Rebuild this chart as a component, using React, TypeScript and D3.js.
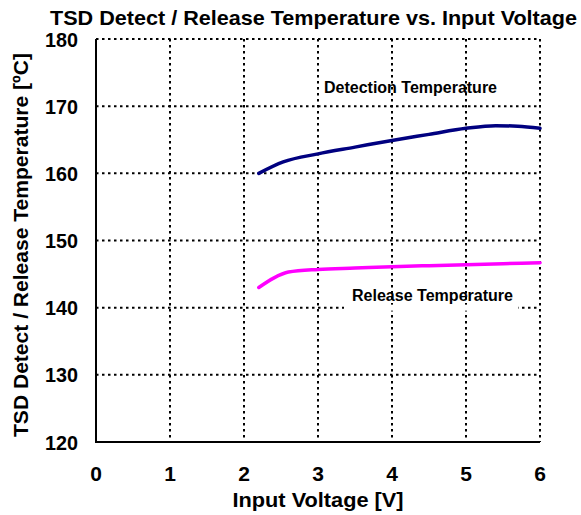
import React from "react";
import * as d3 from "d3";

const detectV = [2.2, 2.53, 3.0, 3.5, 4.0, 4.5, 5.0, 5.4, 5.7, 6.0];
const detectT = [160.0, 161.7, 162.9, 163.9, 164.9, 165.8, 166.7, 167.1, 167.0, 166.7];
const releaseV = [2.2, 2.4, 2.6, 3.0, 3.5, 4.0, 4.5, 5.0, 5.5, 6.0];
const releaseT = [143.0, 144.4, 145.3, 145.7, 145.9, 146.1, 146.25, 146.4, 146.55, 146.7];
const xTicks = [0, 1, 2, 3, 4, 5, 6];
const yTicks = [120, 130, 140, 150, 160, 170, 180];

const FONT = "'Liberation Sans', Arial, sans-serif";

export default function App() {
  const W = 581, H = 515;
  const left = 96, right = 540, top = 39, bottom = 442;
  const x = d3.scaleLinear().domain([0, 6]).range([left, right]);
  const y = d3.scaleLinear().domain([120, 180]).range([bottom, top]);
  const line = d3
    .line<[number, number]>()
    .x((d) => x(d[0]))
    .y((d) => y(d[1]))
    .curve(d3.curveMonotoneX);
  const det = line(detectV.map((v, i) => [v, detectT[i]]) as [number, number][]) || "";
  const rel = line(releaseV.map((v, i) => [v, releaseT[i]]) as [number, number][]) || "";
  const dash = "2.5,3.5";
  return (
    <svg width={W} height={H} style={{ position: "absolute", left: 0, top: 0, background: "#fff" }}>
      <rect x={0} y={0} width={W} height={H} fill="#fff" />
      {/* grid */}
      {xTicks.filter((t) => t > 0).map((t) => (
        <line key={"gx" + t} x1={x(t)} x2={x(t)} y1={top} y2={bottom} stroke="#000" strokeWidth={2} strokeDasharray={dash} />
      ))}
      {yTicks.filter((t) => t > 120).map((t) => (
        <line key={"gy" + t} x1={left} x2={right} y1={y(t)} y2={y(t)} stroke="#000" strokeWidth={2} strokeDasharray={dash} />
      ))}
      {/* axes */}
      <line x1={left} x2={left} y1={top} y2={bottom + 1} stroke="#000" strokeWidth={2} />
      <line x1={left - 1} x2={right} y1={bottom} y2={bottom} stroke="#000" strokeWidth={2} />
      {/* curves */}
      <path d={det} fill="none" stroke="#000080" strokeWidth={3.5} strokeLinecap="round" />
      <path d={rel} fill="none" stroke="#FF00FF" strokeWidth={3.5} strokeLinecap="round" />
      {/* labels */}
      <text x={410.5} y={93} fontFamily={FONT} fontWeight="bold" fontSize={16} textAnchor="middle" textLength={173} lengthAdjust="spacingAndGlyphs" fill="#000">
        Detection Temperature
      </text>
      <rect x={344} y={y(140) - 3} width={174} height={6} fill="#fff" />
      <text x={432.5} y={301} fontFamily={FONT} fontWeight="bold" fontSize={16} textAnchor="middle" textLength={161} lengthAdjust="spacingAndGlyphs" fill="#000">
        Release Temperature
      </text>
      {/* tick labels */}
      {yTicks.map((t) => (
        <text key={"ty" + t} x={78} y={y(t) + 7.5} fontFamily={FONT} fontWeight="bold" fontSize={21} textAnchor="end" textLength={33} lengthAdjust="spacingAndGlyphs" fill="#000">
          {t}
        </text>
      ))}
      {xTicks.map((t) => (
        <text key={"tx" + t} x={x(t)} y={481} fontFamily={FONT} fontWeight="bold" fontSize={21} textAnchor="middle" fill="#000">
          {t}
        </text>
      ))}
      {/* titles */}
      <text x={313.5} y={25} fontFamily={FONT} fontWeight="bold" fontSize={21} textAnchor="middle" textLength={527} lengthAdjust="spacingAndGlyphs" fill="#000">
        TSD Detect / Release Temperature vs. Input Voltage
      </text>
      <text x={318} y={507} fontFamily={FONT} fontWeight="bold" fontSize={21} textAnchor="middle" textLength={171} lengthAdjust="spacingAndGlyphs" fill="#000">
        Input Voltage [V]
      </text>
      <text transform={`translate(28,245) rotate(-90)`} fontFamily={FONT} fontWeight="bold" fontSize={21} textAnchor="middle" textLength={384} lengthAdjust="spacingAndGlyphs" fill="#000">
        TSD Detect / Release Temperature [ºC]
      </text>
    </svg>
  );
}
